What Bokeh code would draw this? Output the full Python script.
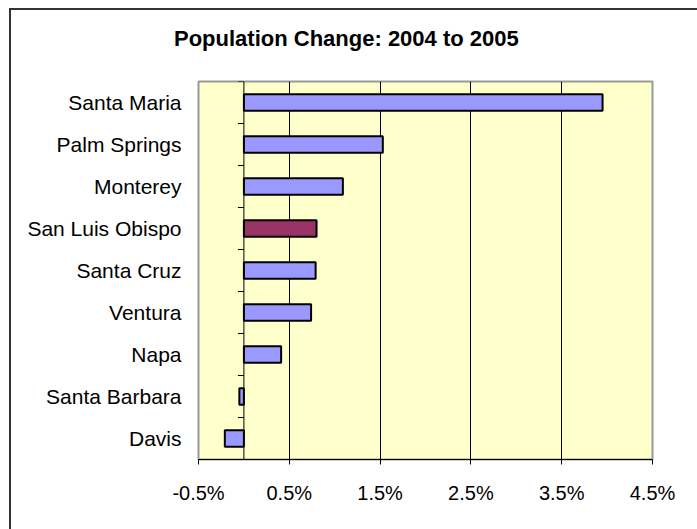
from bokeh.plotting import figure
from bokeh.models import (FactorRange, Range1d, FixedTicker, PrintfTickFormatter,
                          Span, ColumnDataSource, Div)
from bokeh.layouts import column
from bokeh.embed import file_html
from bokeh.resources import INLINE

# ---- data ----
cities = ["Santa Maria", "Palm Springs", "Monterey", "San Luis Obispo",
          "Santa Cruz", "Ventura", "Napa", "Santa Barbara", "Davis"]
change_pct = [3.95, 1.53, 1.09, 0.80, 0.79, 0.74, 0.41, -0.05, -0.21]
highlight = "San Luis Obispo"
x_ticks = [-0.5, 0.5, 1.5, 2.5, 3.5, 4.5]
title_text = "Population Change: 2004 to 2005"

FONT = "Liberation Sans"
BAR = "#9999FF"
HIL = "#993366"

# page geometry: outer border at (10, 9); content starts just inside it
OX, OY = 11, 10
W = 697 - OX
TITLE_H = 58
H = 529 - OY - TITLE_H
FRAME_L, FRAME_R = 198 - OX, 652 - OX
FRAME_T, FRAME_B = 81 - OY - TITLE_H, 459 - OY - TITLE_H

colors = [HIL if c == highlight else BAR for c in cities]
src = ColumnDataSource(dict(city=cities, val=change_pct, color=colors))

title = Div(text=title_text, width=W, height=TITLE_H, margin=0,
            styles={"font-family": FONT, "font-size": "22px", "font-weight": "bold",
                    "color": "black", "line-height": f"{TITLE_H}px",
                    "padding-left": "163px", "box-sizing": "border-box",
                    "white-space": "nowrap"})

p = figure(width=W, height=H, output_backend="svg", toolbar_location=None,
           y_range=FactorRange(factors=list(reversed(cities))),
           x_range=Range1d(x_ticks[0], x_ticks[-1]),
           min_border_left=FRAME_L, min_border_right=W - FRAME_R,
           min_border_top=FRAME_T, min_border_bottom=H - FRAME_B, margin=0)
p.background_fill_color = "#FFFFCC"
p.border_fill_color = "white"
p.outline_line_color = "#999999"
p.outline_line_width = 2

p.hbar(y="city", left=0, right="val", height=0.39, source=src,
       fill_color="color", line_color="black", line_width=2)

# grid
p.ygrid.grid_line_color = None
p.xgrid.ticker = FixedTicker(ticks=x_ticks)
p.xgrid.grid_line_color = "black"
p.xgrid.grid_line_width = 1

# x axis
p.xaxis.ticker = FixedTicker(ticks=x_ticks)
p.xaxis.formatter = PrintfTickFormatter(format="%.1f%%")
p.xaxis.axis_line_color = "black"
p.xaxis.axis_line_width = 1
p.xaxis.major_tick_line_color = "black"
p.xaxis.major_tick_out = 5
p.xaxis.major_tick_in = 0
p.xaxis.minor_tick_line_color = None
p.xaxis.major_label_text_font = FONT
p.xaxis.major_label_text_font_size = "20px"
p.xaxis.major_label_text_color = "black"
p.xaxis.major_label_standoff = 17

# y axis (category labels)
p.yaxis.axis_line_color = None
p.yaxis.major_tick_line_color = None
p.yaxis.minor_tick_line_color = None
p.yaxis.major_label_text_font = FONT
p.yaxis.major_label_text_font_size = "21px"
p.yaxis.major_label_text_color = "black"
p.yaxis.major_label_standoff = 11

# zero line and its tick marks at category boundaries
p.add_layout(Span(location=0, dimension="height", line_color="black", line_width=1))
tick_len = 6 / 90.8
bounds = [(c, 0.5) for c in cities] + [(cities[-1], -0.5)]
p.segment(x0=[-tick_len] * len(bounds), x1=[0] * len(bounds), y0=bounds, y1=bounds,
          line_color="black", line_width=1)

layout = column(title, p, spacing=0, margin=0)
layout.styles = {"margin-left": "9px", "margin-top": "8px",
                 "border-left": "2px solid #333333", "border-top": "2px solid #333333",
                 "background-color": "white"}

open("out.html", "w").write(file_html(layout, INLINE))
